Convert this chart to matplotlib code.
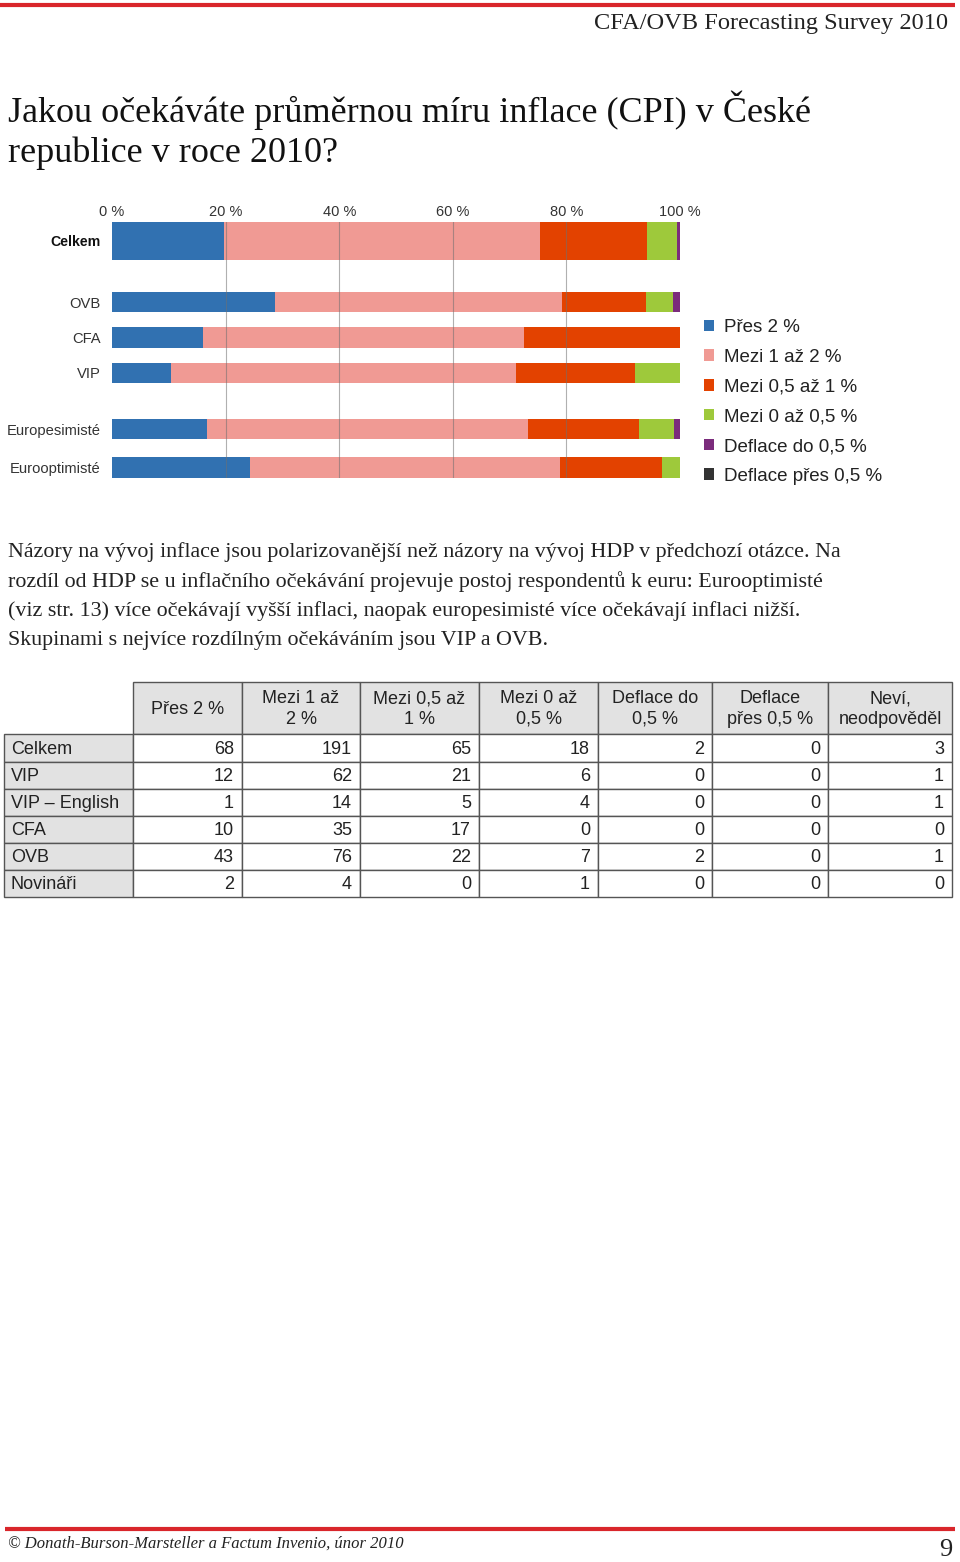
import numpy as np
import matplotlib
matplotlib.use("Agg")
import matplotlib.pyplot as plt
from matplotlib.patches import Rectangle, Patch

# region data
categories = ["Celkem", "OVB", "CFA", "VIP", "Europesimisté", "Eurooptimisté"]
series = ["Přes 2 %", "Mezi 1 až 2 %", "Mezi 0,5 až 1 %", "Mezi 0 až 0,5 %",
          "Deflace do 0,5 %", "Deflace přes 0,5 %"]
# shares in % (without "Neví, neodpověděl")
pres_2 = [19.8, 28.7, 16.1, 10.4, 16.8, 24.3]
mezi_1_2 = [55.5, 50.6, 56.5, 60.8, 56.5, 54.5]
mezi_05_1 = [18.9, 14.7, 27.4, 20.8, 19.5, 18.1]
mezi_0_05 = [5.2, 4.7, 0.0, 8.0, 6.2, 3.1]
deflace_do = [0.6, 1.3, 0.0, 0.0, 1.0, 0.0]
deflace_pres = [0.0, 0.0, 0.0, 0.0, 0.0, 0.0]
x_ticks = [0, 20, 40, 60, 80, 100]

table_cols = ["Přes 2 %", "Mezi 1 až\n2 %", "Mezi 0,5 až\n1 %", "Mezi 0 až\n0,5 %",
              "Deflace do\n0,5 %", "Deflace\npřes 0,5 %", "Neví,\nneodpověděl"]
table_rows = ["Celkem", "VIP", "VIP – English", "CFA", "OVB", "Novináři"]
table_vals = [
    [68, 191, 65, 18, 2, 0, 3],
    [12, 62, 21, 6, 0, 0, 1],
    [1, 14, 5, 4, 0, 0, 1],
    [10, 35, 17, 0, 0, 0, 0],
    [43, 76, 22, 7, 2, 0, 1],
    [2, 4, 0, 1, 0, 0, 0],
]
# endregion

W, H = 960, 1562
colors = ["#3171b1", "#f09a94", "#e34200", "#9ec93b", "#7b2c7c", "#333333"]
bar_pos = [241, 302, 337.5, 373, 429, 467.5]
bar_h = [38, 20.5, 20.5, 20.5, 20.5, 20.5]
RED = "#d9262b"


def px(x0, y0, x1, y1):
    return [x0 / W, 1 - y1 / H, (x1 - x0) / W, (y1 - y0) / H]


fig = plt.figure(figsize=(W / 100, H / 100), dpi=100)
fig.patch.set_facecolor("white")

page = fig.add_axes([0, 0, 1, 1])
page.set_xlim(0, W)
page.set_ylim(H, 0)
page.axis("off")

# header / footer
page.plot([0, 955], [5, 5], color=RED, lw=3, solid_capstyle="butt")
page.plot([5, 955], [1529, 1529], color=RED, lw=3, solid_capstyle="butt")
page.text(948, 24, "CFA/OVB Forecasting Survey 2010", ha="right", va="center",
          family="Liberation Serif", fontsize=17.6, color="#222222")
page.text(8, 110, "Jakou očekáváte průměrnou míru inflace (CPI) v České", ha="left",
          va="center", family="Liberation Serif", fontsize=26, color="#111111")
page.text(8, 153, "republice v roce 2010?", ha="left", va="center",
          family="Liberation Serif", fontsize=26, color="#111111")

para = ["Názory na vývoj inflace jsou polarizovanější než názory na vývoj HDP v předchozí otázce. Na",
        "rozdíl od HDP se u inflačního očekávání projevuje postoj respondentů k euru: Eurooptimisté",
        "(viz str. 13) více očekávají vyšší inflaci, naopak europesimisté více očekávají inflaci nižší.",
        "Skupinami s nejvíce rozdílným očekáváním jsou VIP a OVB."]
for i, line in enumerate(para):
    page.text(8, 552 + i * 29.6, line, ha="left", va="center",
              family="Liberation Serif", fontsize=15.8, color="#222222")

page.text(8, 1544, "© Donath-Burson-Marsteller a Factum Invenio, únor 2010", ha="left",
          va="center", family="Liberation Serif", style="italic", fontsize=12, color="#222222")
page.text(952, 1550, "9", ha="right", va="center", family="Liberation Serif",
          fontsize=19, color="#222222")

# table
col_edges = [4, 133, 242, 360, 479, 598, 712, 828, 952]
row_edges = [682, 734, 762, 789, 816, 843, 870, 897]
gray = "#e2e2e2"
edge = "#555555"
tfont = dict(family="Liberation Sans", fontsize=13, color="#222222")
for j, lab in enumerate(table_cols):
    x0, x1 = col_edges[j + 1], col_edges[j + 2]
    page.add_patch(Rectangle((x0, row_edges[0]), x1 - x0, row_edges[1] - row_edges[0],
                             facecolor=gray, edgecolor=edge, lw=1))
    page.text((x0 + x1) / 2, (row_edges[0] + row_edges[1]) / 2 + 1, lab, ha="center",
              va="center", linespacing=1.3, **tfont)
for i, lab in enumerate(table_rows):
    y0, y1 = row_edges[i + 1], row_edges[i + 2]
    page.add_patch(Rectangle((col_edges[0], y0), col_edges[1] - col_edges[0], y1 - y0,
                             facecolor=gray, edgecolor=edge, lw=1))
    page.text(col_edges[0] + 7, (y0 + y1) / 2 + 1, lab, ha="left", va="center", **tfont)
    for j, v in enumerate(table_vals[i]):
        x0, x1 = col_edges[j + 1], col_edges[j + 2]
        page.add_patch(Rectangle((x0, y0), x1 - x0, y1 - y0,
                                 facecolor="white", edgecolor=edge, lw=1))
        page.text(x1 - 8, (y0 + y1) / 2 + 1, str(v), ha="right", va="center", **tfont)

# stacked bar chart
ax = fig.add_axes(px(112, 222, 680, 478))
ax.set_facecolor("none")
data = [pres_2, mezi_1_2, mezi_05_1, mezi_0_05, deflace_do, deflace_pres]
left = np.zeros(len(categories))
handles = []
for vals, col, name in zip(data, colors, series):
    ax.barh(bar_pos, vals, left=left, height=bar_h, color=col, zorder=2, linewidth=0)
    left += np.array(vals)
    handles.append(Patch(facecolor=col, edgecolor="none", label=name))

for x in x_ticks[1:-1]:
    ax.axvline(x, color="#707070", lw=0.8, alpha=0.55, zorder=3)

ax.set_xlim(0, 100)
ax.set_ylim(478, 222)
ax.xaxis.set_ticks_position("top")
ax.set_xticks(x_ticks)
ax.set_xticklabels([f"{t} %" for t in x_ticks], family="Liberation Sans", fontsize=10.5,
                   color="#333333")
ax.set_yticks(bar_pos)
ax.set_yticklabels(categories, family="Liberation Sans", fontsize=10.6, color="#333333")
ax.get_yticklabels()[0].set_fontweight("bold")
ax.get_yticklabels()[0].set_fontsize(10.2)
ax.get_yticklabels()[0].set_color("#111111")
ax.tick_params(axis="x", length=0, pad=2)
ax.tick_params(axis="y", length=0, pad=8)
for s in ax.spines.values():
    s.set_visible(False)

fig.legend(handles=handles, loc="upper left", bbox_to_anchor=(704 / W, 1 - 319 / H),
           frameon=False, prop=dict(family="Liberation Sans", size=13.5),
           handlelength=0.55, handleheight=0.55, handletextpad=0.5,
           labelspacing=0.68, borderpad=0, borderaxespad=0, labelcolor="#222222")

fig.savefig("out.png", dpi=100, facecolor="white")
